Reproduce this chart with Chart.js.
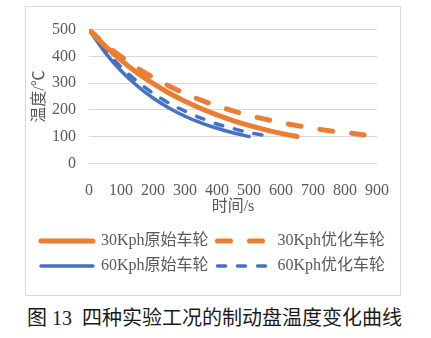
<!DOCTYPE html>
<html>
<head>
<meta charset="utf-8">
<script src="https://cdn.jsdelivr.net/npm/chart.js@4"></script>
<style>
  body { margin: 0; background: #fff; width: 431px; height: 338px; position: relative; overflow: hidden; }
  #frame { position: absolute; left: 25px; top: 6px; width: 376px; height: 290px; border: 1px solid #d9d9d9; box-sizing: border-box; }
  #caption { position: absolute; left: 27px; top: 302px; font: 20px 'Liberation Serif', 'Noto Sans CJK SC', serif; color: #1a1a1a; white-space: nowrap; }
</style>
</head>
<body>
<div id="frame"><canvas id="tempChart"></canvas></div>
<div id="caption">图 13&ensp;四种实验工况的制动盘温度变化曲线</div>
<script>
// 时间 (s) 与制动盘温度 (℃)
const seriesNames = ['30Kph原始车轮', '30Kph优化车轮', '60Kph原始车轮', '60Kph优化车轮'];

const time30Orig = [0, 50, 100, 150, 200, 250, 300, 350, 400, 450, 500, 550, 600, 650];
const temp30Orig = [500, 439, 386, 339, 299, 263, 232, 205, 181, 160, 142, 126, 112, 100];

const time30Opt = [0, 50, 100, 150, 200, 250, 300, 350, 400, 450, 500, 550, 600, 650, 700, 750, 800, 850, 860];
const temp30Opt = [500, 446, 399, 357, 321, 289, 261, 236, 215, 196, 179, 165, 152, 141, 131, 122, 115, 108, 106];

const time60Orig = [0, 50, 100, 150, 200, 250, 300, 350, 400, 450, 500];
const temp60Orig = [500, 415, 346, 290, 244, 207, 176, 151, 131, 114, 100];

const time60Opt = [0, 50, 100, 150, 200, 250, 300, 350, 400, 450, 500, 550, 570];
const temp60Opt = [500, 424, 360, 307, 262, 225, 195, 169, 147, 130, 115, 104, 100];

const xTicks = [0, 100, 200, 300, 400, 500, 600, 700, 800, 900];
const yTicks = [0, 100, 200, 300, 400, 500];

const ORANGE = '#ED7D31';
const BLUE = '#4472C4';
const GREY = '#595959';
const FONT = "'Liberation Serif', 'Noto Sans CJK SC', serif";

function toPoints(xs, ys) {
  return xs.map((x, i) => ({ x: x, y: ys[i] }));
}

function makeSeries(label, xs, ys, color, width, dash) {
  return {
    label: label,
    data: toPoints(xs, ys),
    borderColor: color,
    backgroundColor: color,
    borderWidth: width,
    borderDash: dash,
    borderCapStyle: 'round',
    borderJoinStyle: 'round',
    pointRadius: 0,
    tension: 0.3,
    fill: false
  };
}

const datasets = [
  makeSeries(seriesNames[0], time30Orig, temp30Orig, ORANGE, 5, []),
  makeSeries(seriesNames[1], time30Opt, temp30Opt, ORANGE, 5, [13, 19]),
  makeSeries(seriesNames[2], time60Orig, temp60Orig, BLUE, 3.5, []),
  makeSeries(seriesNames[3], time60Opt, temp60Opt, BLUE, 3.5, [8, 12])
];

new Chart(document.getElementById('tempChart'), {
  type: 'line',
  data: { datasets: datasets },
  options: {
    responsive: true,
    maintainAspectRatio: false,
    animation: false,
    layout: { padding: { left: 0, right: 0, top: 17, bottom: 11 } },
    plugins: {
      tooltip: { enabled: false },
      legend: {
        position: 'bottom',
        labels: {
          usePointStyle: true,
          pointStyleWidth: 52,
          padding: 9,
          color: GREY,
          font: { family: FONT, size: 16 },
          generateLabels: chart => chart.data.datasets.map((ds, i) => ({
            text: ds.label,
            strokeStyle: ds.borderColor,
            fillStyle: ds.borderColor,
            lineWidth: ds.borderWidth,
            lineDash: ds.borderDash,
            lineCap: 'round',
            pointStyle: 'line',
            fontColor: GREY,
            hidden: false,
            datasetIndex: i
          }))
        }
      }
    },
    scales: {
      x: {
        type: 'linear',
        min: 0,
        max: 900,
        afterBuildTicks: s => { s.ticks = xTicks.map(v => ({ value: v })); },
        afterFit: s => { s.height = 60.7; },
        grid: { display: false },
        border: { display: false },
        ticks: { autoSkip: false, maxRotation: 0, padding: 10, color: GREY, font: { family: FONT, size: 16 } },
        title: { display: true, text: '时间/s', color: GREY, padding: { top: 0, bottom: 8 }, font: { family: FONT, size: 16 } }
      },
      y: {
        type: 'linear',
        min: 0,
        max: 500,
        afterBuildTicks: s => { s.ticks = yTicks.map(v => ({ value: v })); },
        afterFit: s => { s.width = 63; },
        grid: { color: '#d9d9d9', lineWidth: 1, drawTicks: false },
        border: { display: false },
        ticks: { autoSkip: false, padding: 13, color: GREY, font: { family: FONT, size: 16 } },
        title: { display: true, text: '温度/℃', color: GREY, padding: { top: 4, bottom: 0 }, font: { family: FONT, size: 16 } }
      },
      // empty strip on the right of the plot
      yRight: {
        position: 'right',
        display: true,
        afterFit: s => { s.width = 23; },
        grid: { display: false },
        border: { display: false },
        ticks: { display: false }
      }
    }
  }
});
</script>
</body>
</html>
